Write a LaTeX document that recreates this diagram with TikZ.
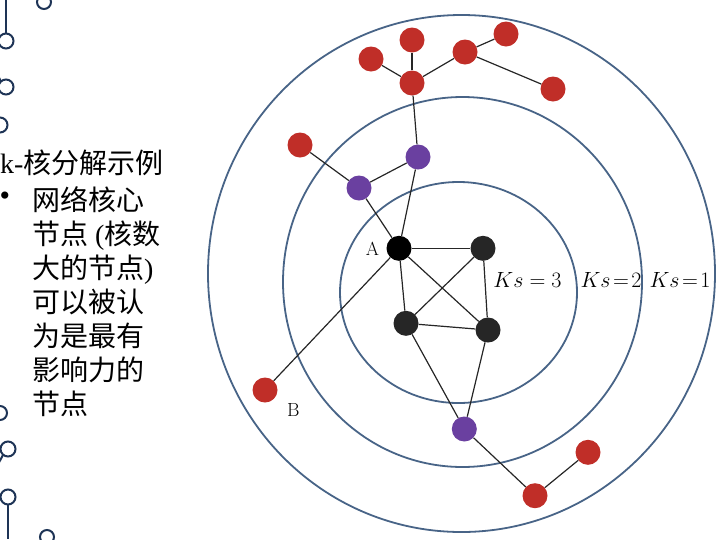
\RequirePackage{fix-cm}
\documentclass[tikz,border=0pt]{standalone}
\usepackage{fontspec}
\newfontfamily\slide{Liberation Serif}
\newfontfamily\cjk{Noto Sans CJK SC}
\usepackage{tikz}
\usetikzlibrary{positioning}
\definecolor{coreRed}{RGB}{192,46,40}
\definecolor{corePurple}{RGB}{106,64,160}
\definecolor{coreBlack}{RGB}{38,38,38}
\definecolor{ringBlue}{RGB}{72,100,135}
\definecolor{decoNavy}{RGB}{30,52,86}

\begin{document}
\begin{tikzpicture}[x=1pt, y=-1pt,
  vtx/.style={circle, minimum size=25pt, inner sep=0pt},
  redv/.style={vtx, fill=coreRed},
  purv/.style={vtx, fill=corePurple},
  blkv/.style={vtx, fill=coreBlack},
  link/.style={draw=black!85, line width=1.2pt},
  ring/.style={draw=ringBlue, line width=1.8pt},
  deco/.style={draw=decoNavy, line width=2pt},
  txt/.style={anchor=base west, inner sep=0pt, font=\slide\fontsize{28}{34}\selectfont},
  lbl/.style={inner sep=0pt, font=\fontsize{19}{22}\selectfont},
  kslbl/.style={inner sep=0pt, font=\fontsize{22}{26}\selectfont}]
  \useasboundingbox (0,0) rectangle (720,539);

  % slide decoration on the left
  \draw[deco] (6,0) -- (6,33.5);
  \draw[deco] (6,41) circle (7.5);
  \draw[deco] (44,2) circle (7);
  \draw[deco] (-4,72) -- (1,81.5);
  \draw[deco] (6,87) circle (7.5);
  \draw[deco] (0,125) circle (7.5);
  \draw[deco] (0,413) circle (7);
  \draw[deco] (8,449) circle (7.5);
  \draw[deco] (3,455) -- (-3,466);
  \draw[deco] (8,497) circle (7.5);
  \draw[deco] (8,504.5) -- (8,539);
  \draw[deco] (47,537) circle (7);

  % text
  \node[txt] (title) at (0,173.5) {k-{\cjk 核分解示例}};
  \node[inner sep=0pt, font=\slide\fontsize{30}{30}\selectfont] (dot) at (5,199) {\textbullet};
  \foreach \t [count=\i] in {{{\cjk 网络核心}}, {{\cjk 节点} ({\cjk 核数}}, {{\cjk 大的节点})}, {{\cjk 可以被认}}, {{\cjk 为是最有}}, {{\cjk 影响力的}}, {{\cjk 节点}}}
    \node[txt] (line\i) at (32,176.5+34*\i) {\t};

  % k-shells
  \draw[ring] (461.5,273.5) ellipse [x radius=253.5pt, y radius=258.5pt];
  \draw[ring] (462.5,282) ellipse [x radius=179.5pt, y radius=185pt];
  \draw[ring] (458.5,292.5) ellipse [x radius=118.5pt, y radius=110.5pt];

  % nodes
  \node[redv] (hub) at (412,83) {};
  \node[redv] (r1) at (371,59) {};
  \node[redv] (r2) at (412,40) {};
  \node[redv] (r3) at (465,52) {};
  \node[redv] (r4) at (506,34) {};
  \node[redv] (r5) at (553,89) {};
  \node[redv] (r6) at (300,145) {};
  \node[purv] (p1) at (418,157) {};
  \node[purv] (p2) at (359,188) {};
  \node[vtx, fill=black] (A) at (399,248.3) {};
  \node[blkv] (k2) at (483,248.3) {};
  \node[blkv] (k3) at (406,323.3) {};
  \node[blkv] (k4) at (488,330) {};
  \node[purv] (p3) at (464.3,429) {};
  \node[redv] (r7) at (535,495.7) {};
  \node[redv] (r8) at (588,452.3) {};
  \node[redv] (rB) at (265,390) {};

  % edges
  \draw[link] (hub) -- (r1);
  \draw[link] (hub) -- (r2);
  \draw[link] (hub) -- (r3);
  \draw[link] (r3) -- (r4);
  \draw[link] (r3) -- (r5);
  \draw[link] (hub) -- (p1);
  \draw[link] (p1) -- (p2);
  \draw[link] (p2) -- (r6);
  \draw[link] (p1) -- (A);
  \draw[link] (p2) -- (A);
  \draw[link] (A) -- (k2);
  \draw[link] (A) -- (k3);
  \draw[link] (A) -- (k4);
  \draw[link] (A) -- (rB);
  \draw[link] (k2) -- (k3);
  \draw[link] (k2) -- (k4);
  \draw[link] (k3) -- (k4);
  \draw[link] (k3) -- (p3);
  \draw[link] (k4) -- (p3);
  \draw[link] (p3) -- (r7);
  \draw[link] (r7) -- (r8);

  % labels
  \node[lbl, left=7pt of A] (labA) {A};
  \node[lbl, below right=4pt and 13pt of rB] (labB) {B};
  \node[kslbl] (ks3) at (527.5,280) {$Ks=3$};
  \node[kslbl] (ks2) at (611,280) {$Ks\!=\!2$};
  \node[kslbl] (ks1) at (680,280) {$Ks\!=\!1$};
\end{tikzpicture}
\end{document}
